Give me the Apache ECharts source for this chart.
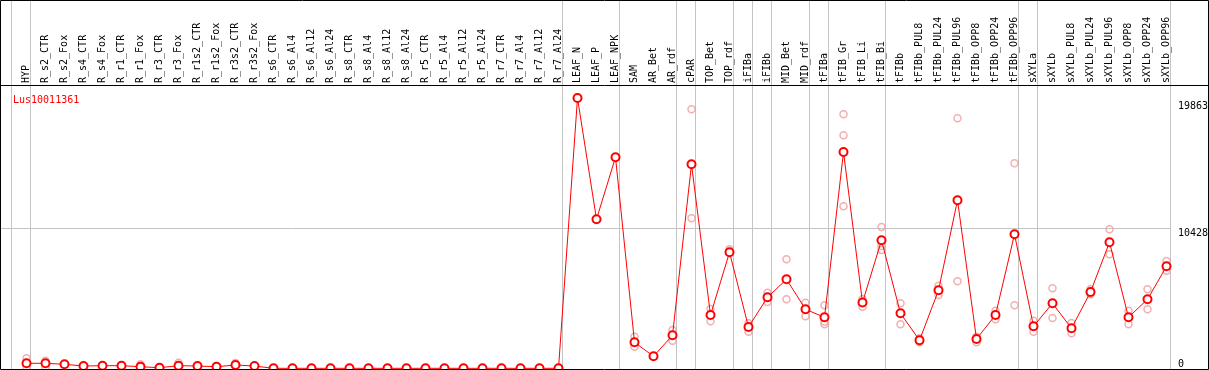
<!DOCTYPE html>
<html><head><meta charset="utf-8">
<script src="https://cdn.jsdelivr.net/npm/echarts@6/dist/echarts.min.js"></script>
<style>html,body{margin:0;padding:0;background:#fff}#c{width:1209px;height:370px}</style>
</head><body><div id="c"></div>
<script>
const title = 'Lus10011361';
const categories = ['HYP','R_s2_CTR','R_s2_Fox','R_s4_CTR','R_s4_Fox','R_r1_CTR','R_r1_Fox','R_r3_CTR','R_r3_Fox','R_r1s2_CTR','R_r1s2_Fox','R_r3s2_CTR','R_r3s2_Fox','R_s6_CTR','R_s6_Al4','R_s6_Al12','R_s6_Al24','R_s8_CTR','R_s8_Al4','R_s8_Al12','R_s8_Al24','R_r5_CTR','R_r5_Al4','R_r5_Al12','R_r5_Al24','R_r7_CTR','R_r7_Al4','R_r7_Al12','R_r7_Al24','LEAF_N','LEAF_P','LEAF_NPK','SAM','AR_Bet','AR_rdf','cPAR','TOP_Bet','TOP_rdf','iFIBa','iFIBb','MID_Bet','MID_rdf','tFIBa','tFIB_Gr','tFIB_Li','tFIB_Bi','tFIBb','tFIBb_PUL8','tFIBb_PUL24','tFIBb_PUL96','tFIBb_OPP8','tFIBb_OPP24','tFIBb_OPP96','sXYLa','sXYLb','sXYLb_PUL8','sXYLb_PUL24','sXYLb_PUL96','sXYLb_OPP8','sXYLb_OPP24','sXYLb_OPP96'];
const means = [422,422,348,222,245,245,170,96,245,222,170,296,222,
  50,50,50,50,50,50,50,50,50,50,50,50,50,50,50,50,
  20080,11093,15687,1978,941,2497,15168,4001,8647,3112,5313,6647,4424,3831,16080,4928,9537,4127,2127,5832,12501,2223,4001,9981,3164,4868,3016,5706,9388,3831,5165,7610];
const replicates = [[793,74],[615,100],[],[],[],[],[350],[],[467,80],[],[],[445],[],
  [],[],[],[],[],[],[],[],[],[],[],[],[],[],[],[],
  [],[],[],[2393,1652],[],[2890,2097],[19244,11167],[4446,3535],[8870],[3386,2764],[5654,4965],[8129,5165],[4913,3905],[4720,3312,3505],[18873,17317,12056],[5187,4616],[10522,9114,8818],[4868,3312],[2275,1978],[6173,5483],[18577,6499],[2393,1978],[4320,3683],[15242,4720],[3579,2764],[5980,3779],[3409,2645],[5906,5535],[10352,8499],[4320,3312],[5906,4424],[8003,7284]];
const yTopLabels = [10428, 19863];
const yBottomLabels = [0];
const yMax = 21044;
const groupEnds = [-1, 0, 28, 31, 34, 35, 37, 38, 39, 41, 42, 45, 52, 53, 60];

const FONT = '"DejaVu Sans Mono", monospace';
const chart = echarts.init(document.getElementById('c'), null, {renderer: 'canvas'});
const repData = [];
replicates.forEach((arr, i) => arr.forEach(v => repData.push([i, v])));
const yLabelBase = {show: true, margin: 2, fontFamily: FONT, fontSize: 10, color: '#000', align: 'left', formatter: v => String(v)};
chart.setOption({
  animation: false,
  title: {text: title, left: 8, top: 90, textStyle: {color: '#ff0000', fontFamily: FONT, fontSize: 10, fontWeight: 'normal'}},
  grid: {left: 17, right: 33, top: 85, bottom: 1, containLabel: false, outerBoundsMode: 'none'},
  xAxis: [
    {type: 'category', data: categories, position: 'top', boundaryGap: true,
     axisLine: {show: false}, axisTick: {show: false}, splitLine: {show: false},
     axisLabel: {interval: 0, rotate: 90, margin: 2, fontFamily: FONT, fontSize: 10, color: '#000'}},
    {type: 'value', min: -0.5, max: categories.length - 0.5, show: false}
  ],
  yAxis: [
    {type: 'value', min: 0, max: yMax, position: 'right', axisLine: {show: false}, axisTick: {show: false}, splitLine: {show: false},
     axisLabel: Object.assign({}, yLabelBase, {customValues: yTopLabels, verticalAlign: 'top'})},
    {type: 'value', min: 0, max: yMax, position: 'right', axisLine: {show: false}, axisTick: {show: false}, splitLine: {show: false},
     axisLabel: Object.assign({}, yLabelBase, {customValues: yBottomLabels, verticalAlign: 'bottom'})}
  ],
  series: [
    {type: 'scatter', xAxisIndex: 0, yAxisIndex: 0, data: repData, symbol: 'circle', symbolSize: 7,
     itemStyle: {color: 'rgba(0,0,0,0)', borderColor: '#f09a9a', borderWidth: 1.5}, z: 3},
    {type: 'line', xAxisIndex: 0, yAxisIndex: 0, data: means, symbol: 'emptyCircle', symbolSize: 8,
     lineStyle: {color: '#ff0000', width: 1}, itemStyle: {color: '#ff0000', borderColor: '#ff0000', borderWidth: 2}, z: 4}
  ]
});

const xPix = p => chart.convertToPixel({xAxisIndex: 1}, p);
const yPix = v => chart.convertToPixel({yAxisIndex: 0}, v);
const graphics = [];
groupEnds.forEach(e => {
  const x = Math.round(xPix(e + 0.21)) + 0.5;
  graphics.push({type: 'line', silent: true, z: 0, shape: {x1: x, y1: 0, x2: x, y2: 369}, style: {stroke: '#c4c4c4', lineWidth: 1}});
});
const yg = Math.round(yPix(yTopLabels[0])) + 0.5;
graphics.push({type: 'line', silent: true, z: 0, shape: {x1: 0, y1: yg, x2: Math.round(xPix(groupEnds[groupEnds.length - 1] + 0.21)), y2: yg}, style: {stroke: '#c4c4c4', lineWidth: 1}});
graphics.push({type: 'rect', silent: true, z: 10, shape: {x: 0.5, y: 0.5, width: 1208, height: 369}, style: {fill: null, stroke: '#000', lineWidth: 1}});
graphics.push({type: 'line', silent: true, z: 10, shape: {x1: 0, y1: 85.5, x2: 1209, y2: 85.5}, style: {stroke: '#000', lineWidth: 1}});
chart.setOption({graphic: graphics});
</script>
</body></html>
